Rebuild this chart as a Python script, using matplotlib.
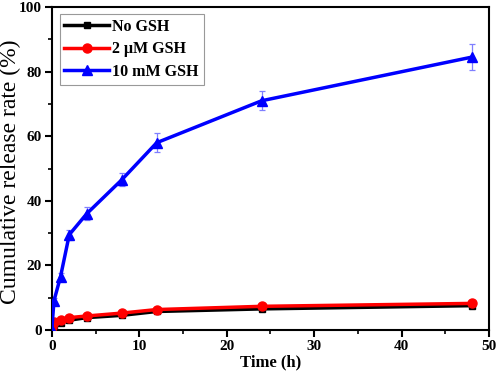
import matplotlib
matplotlib.use("Agg")
import matplotlib.pyplot as plt

plt.rcParams['font.family'] = ['Liberation Serif', 'DejaVu Serif']

time_h = [0, 0.25, 1, 2, 4, 8, 12, 24, 48]
no_gsh = [0, 1.5, 2.2, 3.0, 3.8, 4.5, 5.7, 6.5, 7.5]
um_gsh = [1.0, 2.5, 3.0, 3.8, 4.3, 5.2, 6.3, 7.3, 8.2]
mm_gsh = [0, 9.0, 16.5, 29.5, 36.0, 46.5, 58.0, 71.0, 84.5]
mm_gsh_err = [0.5, 1.0, 1.0, 1.5, 2.0, 2.0, 3.0, 3.0, 4.0]

fig = plt.figure(figsize=(4.98, 3.77), dpi=100)
ax = fig.add_axes([0.104, 0.125, 0.878, 0.856])

# error bars for the 10 mM series (light blue, drawn under the line)
ax.errorbar(time_h, mm_gsh, yerr=mm_gsh_err, fmt='none', ecolor='#7f7fff',
            elinewidth=0.9, capsize=2.5, capthick=0.9, zorder=1)

ax.plot(time_h, no_gsh, color='black', marker='s', markersize=5,
        linewidth=2.5, label='No GSH', zorder=3)
ax.plot(time_h, um_gsh, color='red', marker='o', markersize=6.5,
        linewidth=2.5, label='2 \u03bcM GSH', zorder=3)
ax.plot(time_h, mm_gsh, color='blue', marker='^', markersize=6.5,
        linewidth=2.5, label='10 mM GSH', zorder=3)

ax.set_xlim(0, 50)
ax.set_ylim(0, 100)
ax.set_xticks([0, 10, 20, 30, 40, 50])
ax.set_xticks([5, 15, 25, 35, 45], minor=True)
ax.set_yticks([0, 20, 40, 60, 80, 100])
ax.set_yticks([10, 30, 50, 70, 90], minor=True)
ax.tick_params(which='major', direction='out', length=5, width=1.5,
               labelsize=11, pad=2)
ax.tick_params(which='minor', direction='out', length=3, width=1.2)
for lab in ax.get_xticklabels() + ax.get_yticklabels():
    lab.set_fontweight('bold')
for sp in ax.spines.values():
    sp.set_linewidth(1.5)

ax.set_xlabel('Time (h)', fontsize=12, fontweight='bold', labelpad=1)
ax.set_ylabel('Cumulative release rate (%)', fontsize=17)
ax.yaxis.set_label_coords(-0.07, 0.49)

leg = ax.legend(loc='upper left', bbox_to_anchor=(0.018, 0.978),
                prop={'weight': 'bold', 'size': 11.5}, frameon=True,
                fancybox=False, edgecolor='#808080', handlelength=2.8,
                borderpad=0.3, labelspacing=0.4, handletextpad=0.2,
                borderaxespad=0.0)
leg.get_frame().set_linewidth(0.8)

fig.savefig('out.png', dpi=100)
